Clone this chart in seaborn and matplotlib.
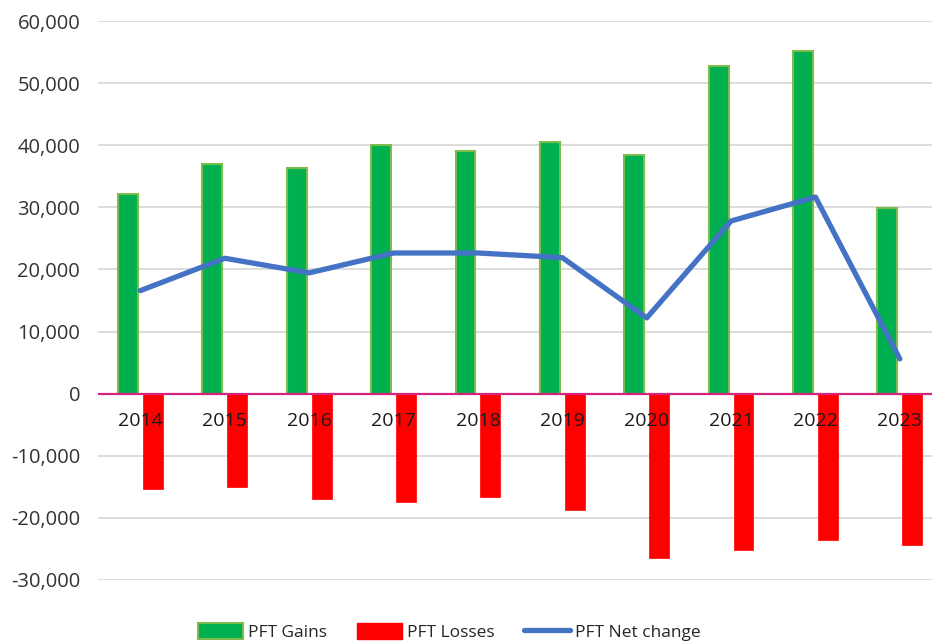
import numpy as np
import pandas as pd
import matplotlib
matplotlib.use("Agg")
import matplotlib.pyplot as plt
import seaborn as sns
from matplotlib.ticker import FuncFormatter
from matplotlib.patches import Patch
from matplotlib.lines import Line2D

years = ["2014", "2015", "2016", "2017", "2018", "2019", "2020", "2021", "2022", "2023"]
gains = [32200, 37000, 36300, 40000, 39100, 40500, 38400, 52700, 55200, 29850]
losses = [-15400, -15050, -16900, -17500, -16700, -18800, -26400, -25200, -23500, -24300]
net_change = [16600, 21800, 19450, 22650, 22650, 21900, 12200, 27800, 31650, 5600]

sns.set_theme(style="white")
plt.rcParams["font.family"] = ["Open Sans", "DejaVu Sans"]

df = pd.DataFrame({
    "Year": years * 2,
    "Value": gains + losses,
    "Series": ["PFT Gains"] * len(years) + ["PFT Losses"] * len(years),
})

fig = plt.figure(figsize=(9.32, 6.41), dpi=100)
ax = fig.add_axes([98.3 / 932, 1 - 580 / 641, (942 - 98.3) / 932, 559 / 641])

sns.barplot(data=df, x="Year", y="Value", hue="Series",
            palette={"PFT Gains": "#00B050", "PFT Losses": "#FF0000"},
            width=0.59, gap=0.2, dodge=True, ax=ax, legend=False,
            errorbar=None, saturation=1)

for bar in ax.containers[0]:
    bar.set_edgecolor("#7DBB4C")
    bar.set_linewidth(1.5)
    bar.set_zorder(2)
for bar in ax.containers[1]:
    bar.set_edgecolor("#FF0000")
    bar.set_linewidth(0.5)
    bar.set_zorder(2)

xs = np.arange(len(years))
sns.lineplot(x=xs, y=net_change, ax=ax, color="#4472C4", linewidth=3.8,
             zorder=4, legend=False)

ax.set_ylim(-30000, 60000)
ax.set_xlim(-0.5, len(years) - 0.5)
ax.set_yticks(range(-30000, 60001, 10000))
ax.yaxis.set_major_formatter(FuncFormatter(lambda v, p: f"{int(v):,}"))
for v in range(-30000, 60001, 10000):
    if v != 0:
        ax.axhline(v, color="#D9D9D9", linewidth=1.3, zorder=0)
ax.axhline(0, color="#D6237D", linewidth=1.6, zorder=3)

ax.set_axisbelow(False)
for s in ax.spines.values():
    s.set_visible(False)
ax.spines["bottom"].set_position(("data", 0))
ax.tick_params(axis="x", length=0, pad=13, labelsize=14, colors="#1a1a1a")
ax.tick_params(axis="y", length=0, pad=13, labelsize=14.5, colors="#333333")
ax.xaxis.set_zorder(5)
ax.set_xlabel("")
ax.set_ylabel("")

handles = [
    Patch(facecolor="#00B050", edgecolor="#7DBB4C", linewidth=1.5, label="PFT Gains"),
    Patch(facecolor="#FF0000", edgecolor="#FF0000", label="PFT Losses"),
    Line2D([0], [0], color="#4472C4", linewidth=3.8, label="PFT Net change"),
]
fig.legend(handles=handles, loc="center", bbox_to_anchor=(0.482, 0.014), ncol=3,
           frameon=False, fontsize=12.5, handlelength=2.6, handleheight=1.0,
           columnspacing=1.7, handletextpad=0.3)

fig.savefig("out.png", dpi=100)
